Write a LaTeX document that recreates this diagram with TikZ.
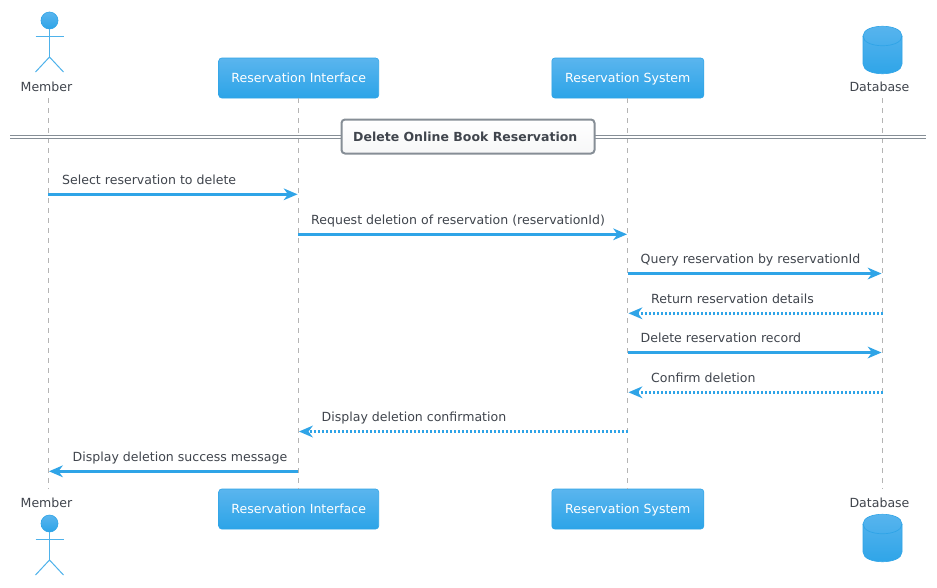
\documentclass[tikz,border=0pt]{standalone}
\usepackage{fontspec}
\setmainfont{DejaVu Sans}
\usetikzlibrary{shapes.geometric}
\definecolor{blueA}{HTML}{5AB5EE}
\definecolor{blueB}{HTML}{2CA4E8}
\definecolor{lineblue}{HTML}{2FA4E7}
\definecolor{txt}{HTML}{40454D}
\definecolor{life}{HTML}{B4B4B4}
\definecolor{grayb}{HTML}{868E96}
\tikzset{
  x=1pt,y=-1pt,
  partbox/.style={draw=lineblue,line width=.6pt,rounded corners=3pt,top color=blueA,bottom color=blueB,text=white,font=\fontsize{12.55}{15}\selectfont,minimum height=40pt,inner sep=0pt,anchor=center,text height=9.4pt,text depth=0pt},
  lbl/.style={text=txt,font=\fontsize{12.55}{15}\selectfont,inner sep=0pt,anchor=base},
  msgl/.style={lbl,anchor=base west},
  lifeline/.style={draw=life,line width=1pt,dash pattern=on 5pt off 5pt},
  msg/.style={draw=lineblue,line width=3.2pt},
  dotmsg/.style={draw=lineblue,line width=3pt,dash pattern=on 2pt off 2pt},
  limb/.style={draw=lineblue!85!white,line width=1pt},
  dbl/.style={draw=grayb,line width=1pt},
}
% chevron arrow head: tip at #1, pointing in direction #2 (+1 right, -1 left)
\newcommand{\chev}[2]{\fill[lineblue] (#1) -- ++(-#2*14,-6) -- ++(#2*4.5,6) -- ++(-#2*4.5,6) -- cycle;}
\newcommand{\stick}[2]{%
  \shade[top color=blueA,bottom color=blueB,draw=lineblue,line width=.6pt] (#1,#2) circle (8.5);
  \draw[limb] (#1,#2+8.5) -- (#1,#2+36.5);
  \draw[limb] (#1-14,#2+15.5) -- (#1+14,#2+15.5);
  \draw[limb] (#1-14,#2+51.5) -- (#1,#2+36.5) -- (#1+14,#2+51.5);
}
\newcommand{\cyl}[2]{%
  \draw[lineblue,line width=.6pt,top color=blueA,bottom color=blueB] (#1-19.5,#2+10) .. controls (#1-19.5,#2-3) and (#1+19.5,#2-3) .. (#1+19.5,#2+10) -- (#1+19.5,#2+38) .. controls (#1+19.5,#2+51) and (#1-19.5,#2+51) .. (#1-19.5,#2+38) -- cycle;
  \draw[lineblue,line width=.7pt] (#1-19.5,#2+10) .. controls (#1-19.5,#2+23) and (#1+19.5,#2+23) .. (#1+19.5,#2+10);
}
\begin{document}
\begin{tikzpicture}
\useasboundingbox (0,0) rectangle (937,587);
\fill[white] (0,0) rectangle (937,587);

% lifeline anchors
\coordinate (mt) at (48.3,98); \coordinate (mb) at (48.3,489);
\coordinate (dt) at (882.5,98); \coordinate (db) at (882.5,489);
\node[partbox,minimum width=160pt] (rit) at (298.7,78) {Reservation Interface};
\node[partbox,minimum width=152pt] (rst) at (627.8,78) {Reservation System};
\node[partbox,minimum width=160pt] (rib) at (298.7,509) {Reservation Interface};
\node[partbox,minimum width=152pt] (rsb) at (627.8,509) {Reservation System};

\draw[lifeline] (mt) -- (mb);
\draw[lifeline] (rit.south) -- (rib.north);
\draw[lifeline] (rst.south) -- (rsb.north);
\draw[lifeline] (dt) -- (db);

% actors, database
\stick{49.5}{20.5}
\stick{49.5}{523.5}
\cyl{882.5}{26}
\cyl{882.5}{514}
\node[lbl] (ml1) at (46.5,91.3) {Member};
\node[lbl] (ml2) at (46.5,507) {Member};
\node[lbl] (dl1) at (879.5,91.3) {Database};
\node[lbl] (dl2) at (879.5,507) {Database};

% divider
\coordinate (dl) at (10,135.5); \coordinate (dr) at (926,135.5);
\coordinate (dl') at (10,138.5); \coordinate (dr') at (926,138.5);
\draw[dbl] (dl) -- (dr);
\draw[dbl] (dl') -- (dr');
\node[draw=grayb,line width=2pt,rounded corners=3.5pt,top color=white,bottom color=white!93!grayb,minimum width=253pt,minimum height=34pt,inner sep=0pt] (div) at (468,136.5) {};
\node[lbl,anchor=base west,font=\fontsize{12.5}{15}\selectfont\bfseries] (divt) at (353,141) {Delete Online Book Reservation};

% messages
\coordinate (a1) at (48,194.3);  \coordinate (b1) at (297.5,194.3);
\coordinate (a2) at (298,234.3); \coordinate (b2) at (627,234.3);
\coordinate (a3) at (627.5,273.5); \coordinate (b3) at (881.5,273.5);
\coordinate (a4) at (882.5,313.3); \coordinate (b4) at (628.5,313.3);
\coordinate (a5) at (627.5,352.5); \coordinate (b5) at (881.5,352.5);
\coordinate (a6) at (882.5,392.3); \coordinate (b6) at (628.5,392.3);
\coordinate (a7) at (627.5,431.5); \coordinate (b7) at (299,431.5);
\coordinate (a8) at (298,471.3); \coordinate (b8) at (49,471.3);

\draw[msg] (a1) -- ([xshift=-6pt]b1); \chev{b1}{1}
\draw[msg] (a2) -- ([xshift=-6pt]b2); \chev{b2}{1}
\draw[msg] (a3) -- ([xshift=-6pt]b3); \chev{b3}{1}
\draw[dotmsg] (a4) -- ([xshift=6pt]b4); \chev{b4}{-1}
\draw[msg] (a5) -- ([xshift=-6pt]b5); \chev{b5}{1}
\draw[dotmsg] (a6) -- ([xshift=6pt]b6); \chev{b6}{-1}
\draw[dotmsg] (a7) -- ([xshift=6pt]b7); \chev{b7}{-1}
\draw[msg] (a8) -- ([xshift=6pt]b8); \chev{b8}{-1}

\node[msgl] (t1) at (62,184.4) {Select reservation to delete};
\node[msgl] (t2) at (311,224) {Request deletion of reservation (reservationId)};
\node[msgl] (t3) at (640.5,263.4) {Query reservation by reservationId};
\node[msgl] (t4) at (651,303) {Return reservation details};
\node[msgl] (t5) at (640.5,342.4) {Delete reservation record};
\node[msgl] (t6) at (651,382) {Confirm deletion};
\node[msgl] (t7) at (321.5,421.4) {Display deletion confirmation};
\node[msgl] (t8) at (72.5,461) {Display deletion success message};
\end{tikzpicture}
\end{document}
